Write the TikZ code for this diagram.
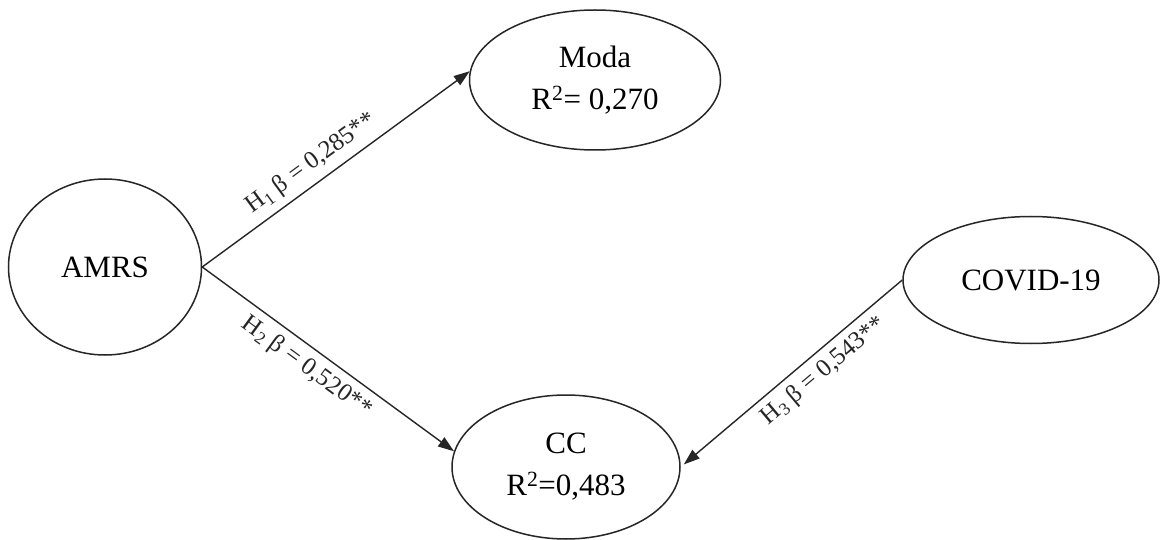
\documentclass[tikz,border=0pt]{standalone}
\usepackage{fontspec}
\setmainfont{Liberation Serif}
\usetikzlibrary{shapes.geometric,arrows.meta}
\begin{document}
\begin{tikzpicture}[x=1pt,y=-1pt,
  latent/.style={draw=black!85, ellipse, line width=1.5pt, inner sep=0pt, align=center, font=\fontsize{31}{42}\selectfont},
  pathline/.style={draw=black!85, line width=1.4pt, -{Triangle[length=16pt,width=11pt]}},
  coef/.style={font=\fontsize{25}{28}\selectfont, text=black!85, sloped, inner sep=7pt}]
\useasboundingbox (0,0) rectangle (1160,540);
\fill[white] (0,0) rectangle (1160,540);
\node[latent, minimum width=193pt, minimum height=176pt] (amrs) at (105,267) {AMRS};
\node[latent, minimum width=251pt, minimum height=140pt] (moda) at (595,80) {Moda\\R\textsuperscript{2}= 0,270};
\node[latent, minimum width=228pt, minimum height=144pt] (cc) at (566,467) {CC\\R\textsuperscript{2}=0,483};
\node[latent, minimum width=256pt, minimum height=127pt] (cov) at (1031,280) {COVID-19};
\draw[pathline] (amrs.east) -- node[coef, pos=0.45, above] {H\textsubscript{1} β = 0,285**} (moda.176);
\draw[pathline] (amrs.east) -- node[coef, pos=0.46, below] {H\textsubscript{2} β = 0,520**} (cc.172);
\draw[pathline, shorten >=4pt] (cov.west) -- node[coef, pos=0.41, below] {H\textsubscript{3} β = 0,543**} (cc.east);
\end{tikzpicture}
\end{document}
